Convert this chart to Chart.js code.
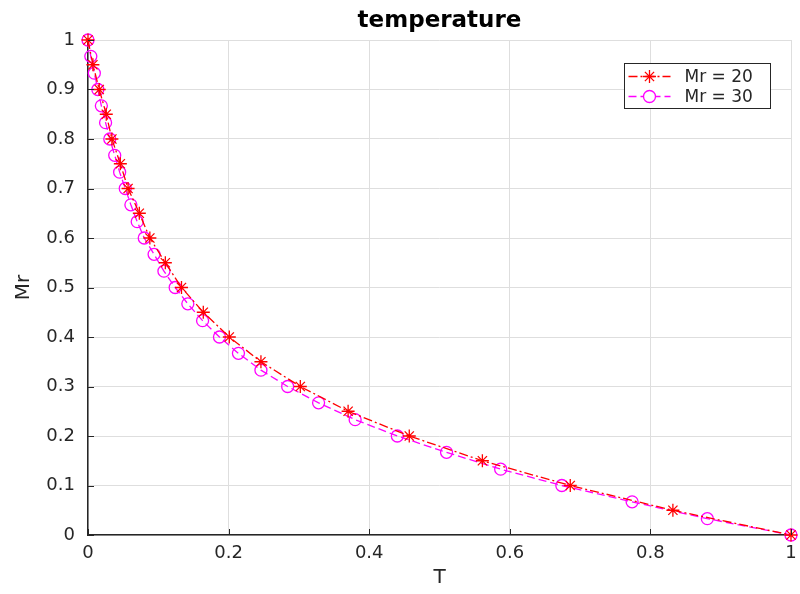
<!DOCTYPE html>
<html>
<head>
<meta charset="utf-8">
<script src="https://cdn.jsdelivr.net/npm/chart.js@4"></script>
<style>
html,body{margin:0;padding:0;background:#fff;}
#c{display:block;}
</style>
</head>
<body>
<canvas id="c" width="800" height="594"></canvas>
<script>
// ---- data ----
const mr20T  = [0, 0.007, 0.016, 0.026, 0.034, 0.046, 0.057, 0.073, 0.088, 0.110, 0.133, 0.164, 0.201, 0.246, 0.302, 0.370, 0.457, 0.561, 0.686, 0.832, 1];
const mr20Mr = [1, 0.95, 0.9, 0.85, 0.8, 0.75, 0.7, 0.65, 0.6, 0.55, 0.5, 0.45, 0.4, 0.35, 0.3, 0.25, 0.2, 0.15, 0.1, 0.05, 0];
const mr30T  = [0, 0.004, 0.009, 0.014, 0.019, 0.025, 0.031, 0.038, 0.045, 0.053, 0.061, 0.070, 0.080, 0.094, 0.108, 0.124, 0.142, 0.163, 0.187, 0.214, 0.246, 0.284, 0.328, 0.380, 0.440, 0.510, 0.587, 0.674, 0.774, 0.881, 1];
const mr30Mr = [1, 0.967, 0.933, 0.9, 0.867, 0.833, 0.8, 0.767, 0.733, 0.7, 0.667, 0.633, 0.6, 0.567, 0.533, 0.5, 0.467, 0.433, 0.4, 0.367, 0.333, 0.3, 0.267, 0.233, 0.2, 0.167, 0.133, 0.1, 0.067, 0.033, 0];
const seriesLabels = ['Mr = 20', 'Mr = 30'];
const chartTitle = 'temperature';
const xTitle = 'T';
const yTitle = 'Mr';

const toPts = (xs, ys) => xs.map((x, i) => ({x: x, y: ys[i]}));
const fmt = v => String(Number(v.toFixed(1)));
const FONT = "'DejaVu Sans', sans-serif";
const AXIS = '#262626';

const styles = [
  {color: '#ff0000', dash: [9, 3, 2, 3], point: 'star', radius: 6.5},
  {color: '#ff00ff', dash: [8, 4], point: 'circle', radius: 6}
];

const extras = {
  id: 'extras',
  afterDraw(chart) {
    const ctx = chart.ctx;
    const ca = chart.chartArea;
    const xs = chart.scales.x, ys = chart.scales.y;
    ctx.save();
    // inward tick marks
    ctx.strokeStyle = AXIS;
    ctx.lineWidth = 1;
    xs.ticks.forEach(t => {
      const px = Math.round(xs.getPixelForValue(t.value)) + 0.5;
      ctx.beginPath(); ctx.moveTo(px, ca.bottom); ctx.lineTo(px, ca.bottom - 6); ctx.stroke();
    });
    ys.ticks.forEach(t => {
      const py = Math.round(ys.getPixelForValue(t.value)) + 0.5;
      ctx.beginPath(); ctx.moveTo(ca.left, py); ctx.lineTo(ca.left + 6, py); ctx.stroke();
    });
    // title centred over plot area
    ctx.fillStyle = '#000';
    ctx.font = "bold 23px " + FONT;
    ctx.textAlign = 'center';
    ctx.textBaseline = 'middle';
    ctx.fillText(chartTitle, (ca.left + ca.right) / 2, 21);
    // legend
    const bx = 624.5, by = 63.5, bw = 146, bh = 45;
    ctx.fillStyle = '#fff';
    ctx.fillRect(bx, by, bw, bh);
    ctx.strokeStyle = AXIS;
    ctx.lineWidth = 1;
    ctx.strokeRect(bx, by, bw, bh);
    ctx.font = "17px " + FONT;
    ctx.textAlign = 'left';
    ctx.textBaseline = 'middle';
    seriesLabels.forEach((lab, i) => {
      const st = styles[i];
      const cy = by + 13 + i * 20;
      ctx.strokeStyle = st.color;
      ctx.lineWidth = 1.3;
      ctx.setLineDash(st.dash);
      ctx.beginPath(); ctx.moveTo(bx + 4, cy); ctx.lineTo(bx + 46, cy); ctx.stroke();
      ctx.setLineDash([]);
      const mx = bx + 25;
      if (st.point === 'star') {
        const r = st.radius;
        ctx.beginPath();
        for (let k = 0; k < 4; k++) {
          const a = k * Math.PI / 4;
          ctx.moveTo(mx - r * Math.cos(a), cy - r * Math.sin(a));
          ctx.lineTo(mx + r * Math.cos(a), cy + r * Math.sin(a));
        }
        ctx.stroke();
      } else {
        ctx.fillStyle = '#fff';
        ctx.beginPath(); ctx.arc(mx, cy, st.radius, 0, Math.PI * 2); ctx.fill(); ctx.stroke();
      }
      ctx.fillStyle = AXIS;
      ctx.fillText(lab, bx + 60, cy + 1);
    });
    ctx.restore();
  }
};

new Chart(document.getElementById('c'), {
  type: 'scatter',
  data: {
    datasets: [
      {
        label: seriesLabels[0],
        data: toPts(mr20T, mr20Mr),
        showLine: true,
        clip: false,
        borderColor: styles[0].color,
        borderWidth: 1.3,
        borderDash: styles[0].dash,
        pointStyle: 'star',
        pointRadius: styles[0].radius,
        pointBorderColor: styles[0].color,
        pointBackgroundColor: styles[0].color,
        pointBorderWidth: 1.3,
        order: 1
      },
      {
        label: seriesLabels[1],
        data: toPts(mr30T, mr30Mr),
        showLine: true,
        clip: false,
        borderColor: styles[1].color,
        borderWidth: 1.3,
        borderDash: styles[1].dash,
        pointStyle: 'circle',
        pointRadius: styles[1].radius,
        pointBorderColor: styles[1].color,
        pointBackgroundColor: 'rgba(0,0,0,0)',
        pointBorderWidth: 1.3,
        order: 2
      }
    ]
  },
  options: {
    responsive: false,
    animation: false,
    devicePixelRatio: 1,
    layout: {padding: {top: 40, right: 9, left: 0, bottom: 0}},
    plugins: {legend: {display: false}, title: {display: false}, tooltip: {enabled: false}},
    scales: {
      x: {
        type: 'linear', min: 0, max: 1,
        afterFit(s) { s.height = 59; s.paddingRight = 0; s.paddingLeft = 0; },
        ticks: {stepSize: 0.2, color: AXIS, font: {family: FONT, size: 18}, padding: 8, maxRotation: 0, callback: v => fmt(v)},
        grid: {color: '#dedede', lineWidth: 1, drawTicks: false},
        border: {display: true, color: AXIS, width: 1.5},
        title: {display: true, text: xTitle, color: AXIS, font: {family: FONT, size: 20}, padding: {top: 0, bottom: 4}}
      },
      y: {
        type: 'linear', min: 0, max: 1,
        afterFit(s) { s.width = 88; s.paddingTop = 0; s.paddingBottom = 0; },
        ticks: {stepSize: 0.1, color: AXIS, font: {family: FONT, size: 18}, padding: 13, callback: v => fmt(v)},
        grid: {color: '#dedede', lineWidth: 1, drawTicks: false},
        border: {display: true, color: AXIS, width: 1.5},
        title: {display: true, text: yTitle, color: AXIS, font: {family: FONT, size: 20}, padding: {top: 12, bottom: 0}}
      }
    }
  },
  plugins: [extras]
});
</script>
</body>
</html>
